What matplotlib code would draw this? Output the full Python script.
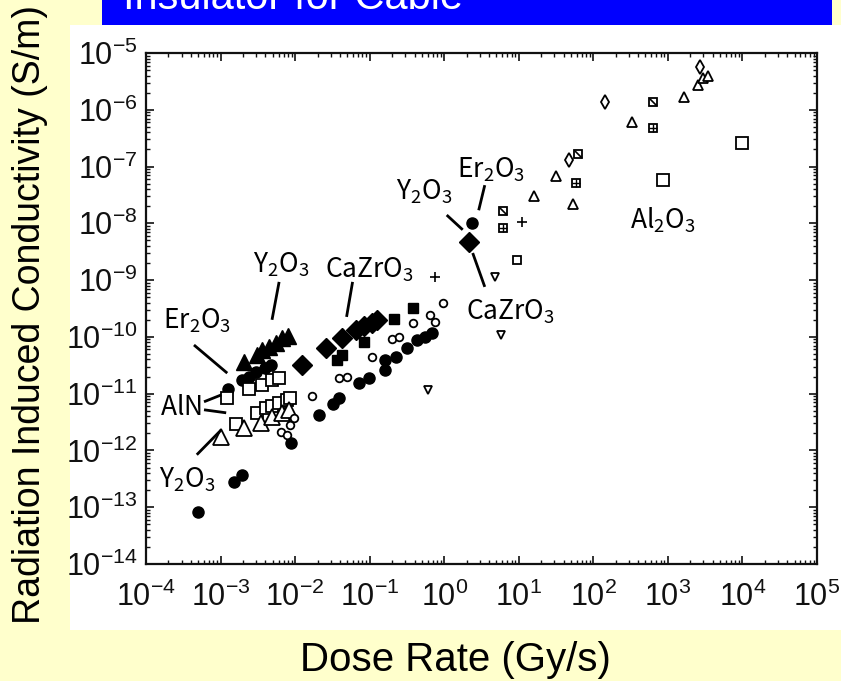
import numpy as np
import matplotlib
matplotlib.use("Agg")
import matplotlib.pyplot as plt
from matplotlib.path import Path
from matplotlib.patches import Rectangle
from matplotlib.ticker import LogLocator, FuncFormatter, NullFormatter

# ---- data (dose rate Gy/s, conductivity S/m) ----
fcirc_x = [5.0e-4, 1.52e-3, 1.95e-3, 1.26e-3, 1.95e-3, 2.4e-3, 3.0e-3, 3.9e-3, 4.8e-3,
           8.9e-3, 2.1e-2, 3.2e-2, 3.9e-2, 7.1e-2, 9.9e-2, 0.163, 0.163, 0.229, 0.313,
           0.426, 0.545, 0.678, 2.33]
fcirc_y = [8.3e-14, 2.8e-13, 3.7e-13, 1.2e-11, 1.75e-11, 2.0e-11, 2.4e-11, 2.85e-11, 3.2e-11,
           1.36e-12, 4.2e-12, 6.6e-12, 8.4e-12, 1.55e-11, 1.9e-11, 2.6e-11, 3.9e-11, 4.4e-11, 6.4e-11,
           8.9e-11, 1.0e-10, 1.17e-10, 1.02e-8]

ftri_x = [2.07e-3, 3.1e-3, 3.6e-3, 4.5e-3, 5.6e-3, 6.7e-3, 8.1e-3]
ftri_y = [3.6e-11, 4.8e-11, 5.9e-11, 6.7e-11, 7.8e-11, 9.6e-11, 1.04e-10]

fdia_x = [1.25e-2, 2.6e-2, 4.3e-2, 6.6e-2, 8.5e-2, 0.106, 0.127, 2.13]
fdia_y = [3.2e-11, 6.4e-11, 9.6e-11, 1.33e-10, 1.56e-10, 1.76e-10, 2.0e-10, 4.7e-9]

fsq_x = [3.6e-2, 4.3e-2, 8.5e-2, 0.215, 0.376]
fsq_y = [3.9e-11, 4.8e-11, 8.2e-11, 2.1e-10, 3.2e-10]

osq_x = [1.23e-3, 2.4e-3, 3.6e-3, 4.9e-3, 6.1e-3, 1.62e-3, 3.1e-3, 4.1e-3, 4.9e-3, 6.1e-3, 7.9e-3, 8.6e-3]
osq_y = [8.4e-12, 1.2e-11, 1.43e-11, 1.75e-11, 1.9e-11, 2.9e-12, 4.6e-12, 5.6e-12, 6.1e-12, 6.9e-12, 7.8e-12, 8.4e-12]

otri_x = [1.02e-3, 2.07e-3, 3.5e-3, 4.9e-3, 6.7e-3, 8.4e-3]
otri_y = [1.73e-12, 2.5e-12, 3.1e-12, 3.9e-12, 4.6e-12, 5.2e-12]

ocirc_x = [6.5e-3, 7.9e-3, 8.6e-3, 9.8e-3, 1.7e-2, 3.9e-2, 4.9e-2, 0.109, 0.202, 0.244, 0.376, 0.637, 0.743, 0.95]
ocirc_y = [2.1e-12, 1.9e-12, 2.8e-12, 3.75e-12, 9.1e-12, 1.9e-11, 2.0e-11, 4.4e-11, 9.2e-11, 1.0e-10, 1.76e-10, 2.4e-10, 1.84e-10, 4.0e-10]

dtri_x = [0.598, 4.75, 5.7]
dtri_y = [1.17e-11, 1.14e-9, 1.08e-10]

plus_x = [0.743, 11.0]
plus_y = [1.14e-9, 1.06e-8]

ssq_x = [9.4]
ssq_y = [2.3e-9]

bplus_x = [6.1, 58, 632]
bplus_y = [8.3e-9, 5.1e-8, 4.8e-7]

bdiag_x = [6.1, 62, 632]
bdiag_y = [1.65e-8, 1.67e-7, 1.37e-6]

sdia_x = [47, 143, 2710]
sdia_y = [1.3e-7, 1.37e-6, 5.7e-6]

stri_x = [15.9, 32, 53, 330, 1650, 2550, 2970, 3470]
stri_y = [3.0e-8, 6.8e-8, 2.2e-8, 6.1e-7, 1.68e-6, 2.7e-6, 3.6e-6, 3.9e-6]

alsq_x = [861, 9930]
alsq_y = [5.8e-8, 2.6e-7]

# material labels: text, text position, leader lines
labels = [
    ("Y_2O_3", (6.5e-3, 1.9e-9), [((6.1e-3, 9.3e-10), (4.9e-3, 2.0e-10))]),
    ("CaZrO_3", (0.099, 1.5e-9), [((5.9e-2, 9.3e-10), (4.9e-2, 2.25e-10))]),
    ("Er_2O_3", (4.8e-4, 1.9e-10), [((4.4e-4, 7.2e-11), (1.23e-3, 2.3e-11))]),
    ("AlN", (2.9e-4, 5.6e-12), [((6.0e-4, 7.2e-12), (1.02e-3, 9.5e-12)),
                                ((6.0e-4, 5.2e-12), (1.19e-3, 4.6e-12))]),
    ("Y_2O_3", (3.6e-4, 3.0e-13), [((4.8e-4, 8.4e-13), (1.02e-3, 2.3e-12))]),
    ("Er_2O_3", (4.3, 8.7e-8), [((3.5, 4.7e-8), (2.9, 1.7e-8))]),
    ("Y_2O_3", (0.545, 3.6e-8), [((1.08, 1.4e-8), (1.77, 7.7e-9))]),
    ("CaZrO_3", (7.8, 2.75e-10), [((2.41, 3.0e-9), (3.5, 7.6e-10))]),
    ("Al_2O_3", (861, 1.15e-8), []),
]

sans = ["Liberation Sans", "DejaVu Sans"]
gothic = ["Noto Sans CJK JP", "DejaVu Sans"]

fig = plt.figure(figsize=(8.41, 6.81), dpi=100, facecolor="#FFFFCC")
fig.patches.append(Rectangle((70 / 841, 1 - 630 / 681), 1 - 70 / 841, (630 - 25) / 681,
                             transform=fig.transFigure, facecolor="white", edgecolor="none", zorder=-10))
fig.patches.append(Rectangle((102 / 841, 1 - 25 / 681), (832 - 102) / 841, 25 / 681,
                             transform=fig.transFigure, facecolor="#0000FF", edgecolor="none", zorder=-9))
fig.text(123 / 841, 1 - 9 / 681, "Insulator for Cable", color="white", fontsize=30,
         family=sans, va="baseline", ha="left")

ax = fig.add_axes([146 / 841, 1 - 564 / 681, (817 - 146) / 841, (564 - 53) / 681])
ax.set_facecolor("white")
ax.set_xscale("log")
ax.set_yscale("log")
ax.set_xlim(1e-4, 1e5)
ax.set_ylim(1e-14, 1e-5)

k = dict(linestyle="none", color="black")
ax.plot(fcirc_x, fcirc_y, marker="o", ms=8, **k)
ax.plot(ftri_x, ftri_y, marker="^", ms=11, **k)
ax.plot(fdia_x, fdia_y, marker="D", ms=10, **k)
ax.plot(fsq_x, fsq_y, marker="s", ms=7.5, **k)
ko = dict(linestyle="none", color="black", mfc="white", mew=1.3)
ax.plot(osq_x, osq_y, marker="s", ms=9, **ko)
ax.plot(otri_x, otri_y, marker="^", ms=11, **ko)
ax.plot(ocirc_x, ocirc_y, marker="o", ms=5.5, **ko)
ax.plot(dtri_x, dtri_y, marker="v", ms=6, **ko)
ax.plot(plus_x, plus_y, marker="+", ms=7, mew=1.2, **k)
ax.plot(ssq_x, ssq_y, marker="s", ms=6, **ko)
ax.plot(bplus_x, bplus_y, marker="s", ms=6, **ko)
ax.plot(bplus_x, bplus_y, marker="+", ms=6, mew=1.0, **k)
ax.plot(bdiag_x, bdiag_y, marker="s", ms=6, **ko)
diag = Path([(-1, 1), (1, -1)], [Path.MOVETO, Path.LINETO])
ax.plot(bdiag_x, bdiag_y, marker=diag, ms=5, mew=1.2, **k)
ax.plot(sdia_x, sdia_y, marker="d", ms=7, **ko)
ax.plot(stri_x, stri_y, marker="^", ms=7, **ko)
ax.plot(alsq_x, alsq_y, marker="s", ms=9, **ko)

for txt, pos, lines in labels:
    ax.text(pos[0], pos[1], r"$\mathregular{%s}$" % txt, family=gothic, fontsize=19,
            ha="center", va="center")
    for (x0, y0), (x1, y1) in lines:
        ax.plot([x0, x1], [y0, y1], color="black", lw=2, solid_capstyle="butt")

fmt = FuncFormatter(lambda v, p: r"$\mathregular{10^{%d}}$" % int(round(np.log10(v))))
for axis in (ax.xaxis, ax.yaxis):
    axis.set_major_locator(LogLocator(base=10, numticks=20))
    axis.set_minor_locator(LogLocator(base=10, subs=np.arange(2, 10), numticks=20))
    axis.set_major_formatter(fmt)
    axis.set_minor_formatter(NullFormatter())

ax.tick_params(which="both", direction="in", top=True, right=True, colors="#111111")
ax.tick_params(which="major", length=6, width=1.2, labelsize=22)
ax.tick_params(which="minor", length=3, width=1.0)
ax.tick_params(axis="x", which="major", pad=13)
ax.tick_params(axis="y", which="major", pad=6)
for lab in ax.get_xticklabels() + ax.get_yticklabels():
    lab.set_family(sans)
for s in ax.spines.values():
    s.set_linewidth(1.6)
    s.set_color("#111111")

fig.text(455 / 841, 1 - 660 / 681, "Dose Rate (Gy/s)", fontsize=29, family=sans,
         ha="center", va="center")
fig.text(30 / 841, 1 - 314 / 681, "Radiation Induced Conductivity (S/m)", fontsize=27,
         family=sans, rotation=90, ha="center", va="center")

fig.savefig("out.png", dpi=100, facecolor=fig.get_facecolor())
